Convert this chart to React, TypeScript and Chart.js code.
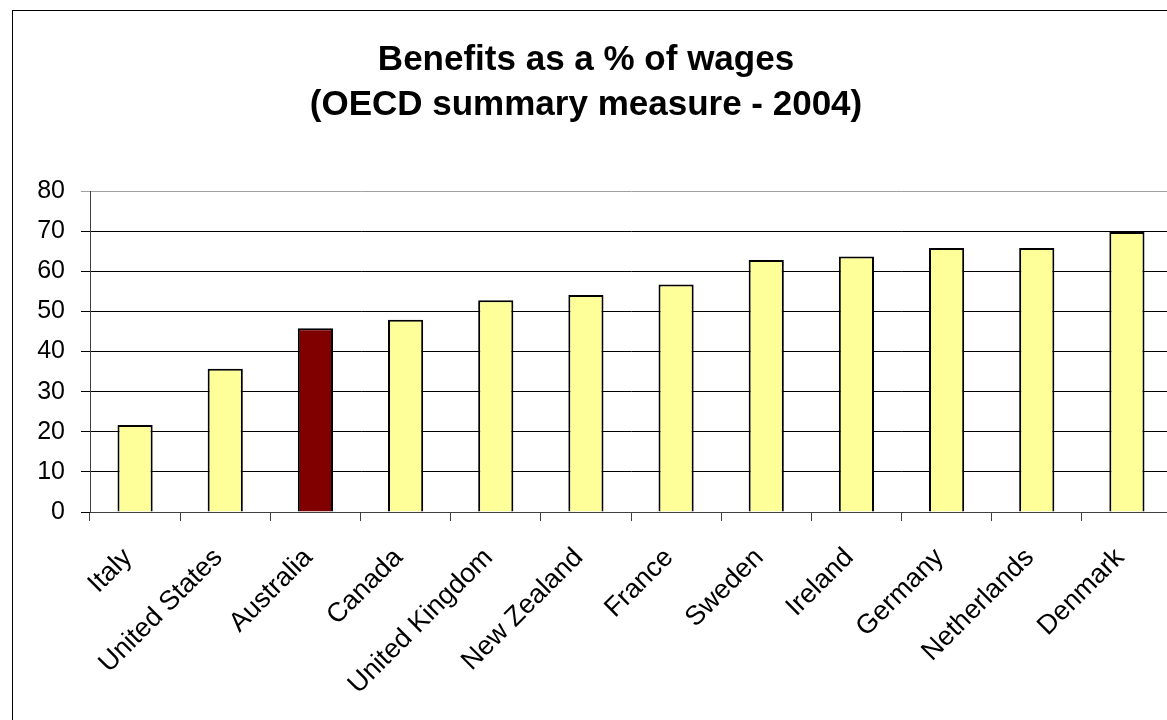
import React, { useEffect, useRef } from "react";
import { Chart, registerables } from "chart.js";

Chart.register(...registerables);

const titleLines = ["Benefits as a % of wages", "(OECD summary measure - 2004)"];
const countries = [
  "Italy",
  "United States",
  "Australia",
  "Canada",
  "United Kingdom",
  "New Zealand",
  "France",
  "Sweden",
  "Ireland",
  "Germany",
  "Netherlands",
  "Denmark",
];
const benefitValues = [21.7, 35.7, 45.8, 47.9, 52.8, 54.1, 56.7, 62.8, 63.7, 65.8, 65.8, 69.8];
const highlightCountry = "Australia";
const yTickMin = 0;
const yTickMax = 80;
const yTickStep = 10;

const FONT = "'Liberation Sans', Arial, Helvetica, sans-serif";

const borderPlugin = {
  id: "frameBorder",
  beforeDraw(chart: any) {
    const ctx = chart.ctx;
    ctx.save();
    ctx.fillStyle = "#ffffff";
    ctx.fillRect(0, 0, chart.width, chart.height);
    ctx.strokeStyle = "#000000";
    ctx.lineWidth = 1;
    ctx.strokeRect(12.5, 10.5, 3000, 3000);
    ctx.restore();
  },
};

export default function App() {
  const canvasRef = useRef<HTMLCanvasElement | null>(null);

  useEffect(() => {
    if (!canvasRef.current) return;
    const chart = new Chart(canvasRef.current, {
      type: "bar",
      data: {
        labels: countries,
        datasets: [
          {
            data: benefitValues,
            backgroundColor: countries.map((c) => (c === highlightCountry ? "#800000" : "#FFFF99")),
            borderColor: "#000000",
            borderWidth: 2,
            barPercentage: 0.39,
            categoryPercentage: 1,
          },
        ],
      },
      options: {
        responsive: false,
        animation: false,
        layout: { padding: { top: 0, left: 0, right: 28, bottom: 0 } },
        plugins: {
          legend: { display: false },
          tooltip: { enabled: false },
          title: {
            display: true,
            text: titleLines,
            color: "#000000",
            font: { family: FONT, size: 35, weight: "bold", lineHeight: 45 / 35 },
            padding: { top: 38, bottom: 63 },
          },
        },
        scales: {
          x: {
            grid: {
              drawOnChartArea: false,
              drawTicks: true,
              tickLength: 9,
              color: "#404040",
              offset: true,
            },
            border: { display: true, color: "#404040", width: 1 },
            ticks: {
              color: "#000000",
              font: { family: FONT, size: 27 },
              minRotation: 45,
              maxRotation: 45,
              autoSkip: false,
              padding: 21,
              labelOffset: -7,
            },
            afterFit: (axis: any) => {
              axis.height = 208;
            },
          },
          y: {
            min: yTickMin,
            max: yTickMax,
            grid: {
              drawTicks: true,
              tickLength: 9,
              color: (c: any) => (c.tick && c.tick.value === yTickMax ? "#a0a0a0" : "#000000"),
            },
            border: { display: true, color: "#404040", width: 1 },
            ticks: {
              stepSize: yTickStep,
              color: "#000000",
              font: { family: FONT, size: 25 },
              padding: 16,
            },
            afterFit: (axis: any) => {
              axis.width = 90;
            },
          },
        },
      },
      plugins: [borderPlugin],
    });
    return () => chart.destroy();
  }, []);

  return (
    <div
      style={{
        position: "fixed",
        left: 0,
        top: 0,
        width: 1167,
        height: 720,
        overflow: "hidden",
        background: "#ffffff",
      }}
    >
      <canvas ref={canvasRef} width={1200} height={720} style={{ display: "block" }} />
    </div>
  );
}
